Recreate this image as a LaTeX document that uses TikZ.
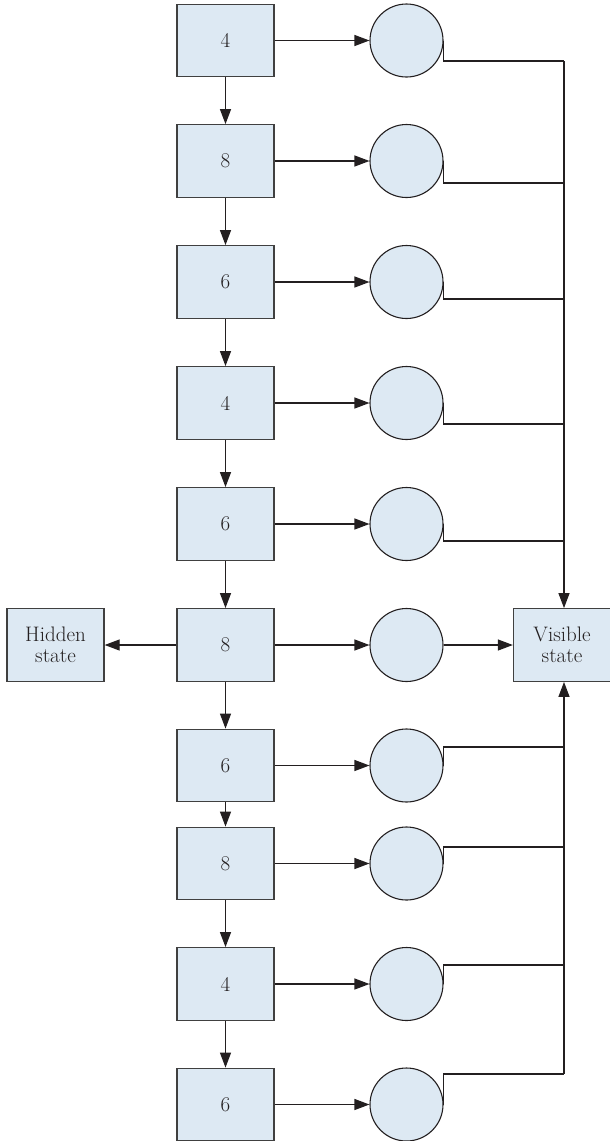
\documentclass[tikz,border=0pt]{standalone}
\usetikzlibrary{arrows.meta}
\definecolor{boxfill}{HTML}{DDE9F3}
\definecolor{ink}{HTML}{231F20}
\definecolor{boxline}{HTML}{404040}
\begin{document}
\begin{tikzpicture}[x=1pt,y=-1pt,
  every node/.style={font=\fontsize{21}{23}\selectfont, text=ink},
  statebox/.style={draw=boxline, fill=boxfill, line width=1.3pt, minimum width=97pt, minimum height=72.5pt, inner sep=0pt, align=center},
  outcircle/.style={draw=ink, fill=boxfill, line width=1.1pt, circle, minimum size=73pt, inner sep=0pt},
  conn/.style={draw=ink, line width=1.2pt},
  arr/.style={conn, -{Triangle[length=15pt,width=11pt]}}]
\useasboundingbox (0,0) rectangle (610,1141);
% rows
\foreach \n/\y/\t in {1/40.5/4, 2/161/8, 3/282/6, 4/403/4, 5/524/6, 6/645/8, 7/765.5/6, 8/863.5/8, 9/984/4, 10/1104.5/6}{
  \node[statebox] (b\n) at (225.5,\y) {\t};
  \node[outcircle] (c\n) at (406.5,\y) {};
}
\node[statebox] (hid) at (55.5,645) {Hidden\\[-2pt]state};
\node[statebox] (vis) at (562,645) {Visible\\[-2pt]state};
% box chain
\foreach \a/\b in {1/2,2/3,3/4,4/5,5/6,6/7,7/8,8/9,9/10}{
  \draw[arr] (b\a.south) -- (b\b.north);
}
% box to circle
\foreach \n in {1,...,10}{
  \draw[arr] (b\n.east) -- (c\n.west);
}
\draw[arr] (b6.west) -- (hid.east);
\draw[arr] (c6.east) -- (vis.west);
% bus
\coordinate (bt) at (564,61);
\coordinate (bb) at (564,1074);
\draw[arr] (bt) -- (bt |- vis.north);
\draw[arr] (bb) -- (bb |- vis.south);
\foreach \n/\d in {1/20.5, 2/22, 3/17, 4/21, 5/17, 7/-18.5, 8/-16.5, 9/-19, 10/-30.5}{
  \draw[conn] (c\n.east) -- ++(0,\d) coordinate (k\n) -- (k\n -| bt);
}
\end{tikzpicture}
\end{document}
